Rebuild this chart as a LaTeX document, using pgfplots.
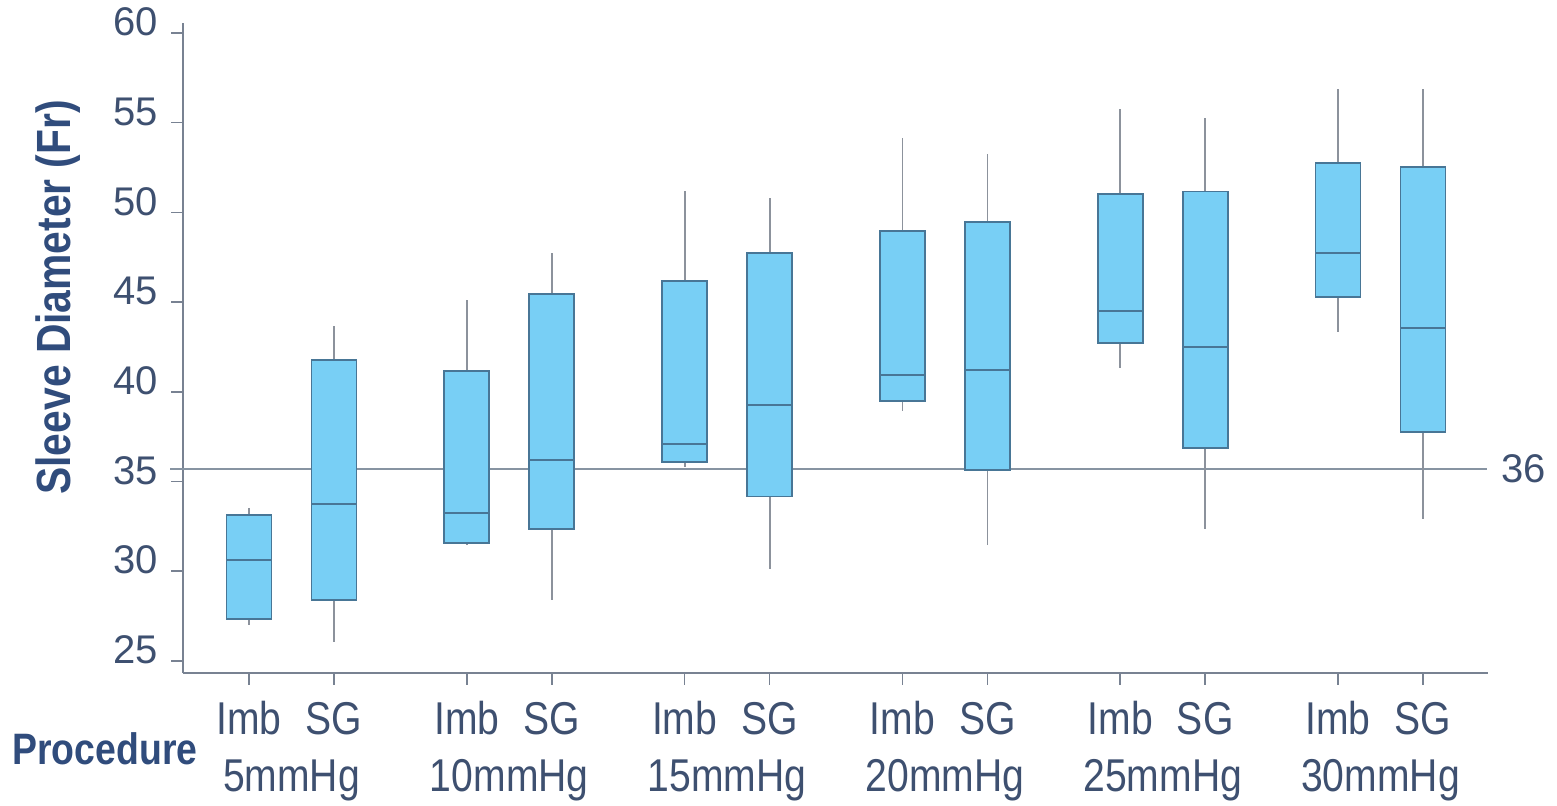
\documentclass[border=0pt]{standalone}
\usepackage{fontspec}
\setmainfont{Liberation Sans}
\newfontfamily\condfont[FakeStretch=0.85]{Liberation Sans}
\usepackage{pgfplots}
\pgfplotsset{compat=1.18}
\usepgfplotslibrary{statistics}
\definecolor{boxfill}{RGB}{120,207,245}
\definecolor{boxdraw}{RGB}{72,118,150}
\definecolor{whisk}{RGB}{140,146,156}
\definecolor{axisgray}{RGB}{120,130,146}
\definecolor{reflinec}{RGB}{135,148,162}
\definecolor{tickc}{RGB}{62,80,112}
\definecolor{labc}{RGB}{48,76,124}
\pgfplotsset{
  mybox/.style={draw=boxdraw, fill=boxfill, line width=0.9pt, mark=none, boxplot prepared={#1}},
}
\newcommand{\grp}[2]{\node[anchor=base, inner sep=0pt, font=\condfont\fontsize{23}{23}\selectfont, text=tickc] at ([yshift=-59.5pt]axis cs:#1,24.326) {#2};}
\begin{document}
\begin{tikzpicture}
\useasboundingbox (0,0) rectangle (778.5pt,403pt);
\begin{axis}[
  at={(91.5pt,66.5pt)}, anchor=south west,
  scale only axis, width=652.5pt, height=325pt,
  xmin=1.83, xmax=14.88, ymin=24.326, ymax=60.557,
  axis x line=bottom, axis y line=left,
  axis line style={draw=axisgray, line width=0.8pt, -},
  tick align=outside, major tick length=6pt,
  tick style={draw=axisgray, line width=0.8pt},
  ytick={25,30,...,60},
  xtick={2.49,3.34,4.668,5.518,6.846,7.696,9.024,9.874,11.202,12.052,13.38,14.23},
  xticklabels={Imb,SG,Imb,SG,Imb,SG,Imb,SG,Imb,SG,Imb,SG},
  /pgf/number format/assume math mode=true,
  yticklabel style={font=\fontsize{20}{20}\selectfont, text=tickc, anchor=east, xshift=-3pt, yshift=5.5pt},
  xticklabel style={font=\condfont\fontsize{23}{23}\selectfont, text=tickc, anchor=base, yshift=-25pt},
  clip=false,
  boxplot/draw direction=y,
  boxplot/box extend=0.45,
  boxplot/whisker extend=0,
  boxplot/every whisker/.style={draw=whisk, line width=0.9pt},
  boxplot/every median/.style={draw=boxdraw, line width=1pt},
]
\addplot[draw=reflinec, line width=1pt] coordinates {(1.70,35.70) (14.87,35.70)};
\addplot[mybox={draw position=2.49, lower whisker=27.0, lower quartile=27.34, median=30.61, upper quartile=33.12, upper whisker=33.53}] coordinates {};
\addplot[mybox={draw position=3.34, lower whisker=26.08, lower quartile=28.40, median=33.75, upper quartile=41.78, upper whisker=43.64}] coordinates {};
\addplot[mybox={draw position=4.668, lower whisker=31.45, lower quartile=31.59, median=33.26, upper quartile=41.18, upper whisker=45.12}] coordinates {};
\addplot[mybox={draw position=5.518, lower whisker=28.40, lower quartile=32.37, median=36.20, upper quartile=45.44, upper whisker=47.72}] coordinates {};
\addplot[mybox={draw position=6.846, lower whisker=35.83, lower quartile=36.07, median=37.08, upper quartile=46.18, upper whisker=51.19}] coordinates {};
\addplot[mybox={draw position=7.696, lower whisker=30.14, lower quartile=34.16, median=39.27, upper quartile=47.72, upper whisker=50.80}] coordinates {};
\addplot[mybox={draw position=9.024, lower whisker=38.93, lower quartile=39.49, median=40.94, upper quartile=48.96, upper whisker=54.15}] coordinates {};
\addplot[mybox={draw position=9.874, lower whisker=31.46, lower quartile=35.64, median=41.22, upper quartile=49.46, upper whisker=53.26}] coordinates {};
\addplot[mybox={draw position=11.202, lower whisker=41.33, lower quartile=42.72, median=44.50, upper quartile=51.03, upper whisker=55.76}] coordinates {};
\addplot[mybox={draw position=12.052, lower whisker=32.35, lower quartile=36.85, median=42.48, upper quartile=51.16, upper whisker=55.25}] coordinates {};
\addplot[mybox={draw position=13.38, lower whisker=43.35, lower quartile=45.30, median=47.76, upper quartile=52.77, upper whisker=56.86}] coordinates {};
\addplot[mybox={draw position=14.23, lower whisker=32.91, lower quartile=37.78, median=43.54, upper quartile=52.51, upper whisker=56.86}] coordinates {};
\node[anchor=west, inner sep=0pt, font=\fontsize{20}{20}\selectfont, text=tickc] at ([xshift=7pt]axis cs:14.87,35.70) {36};
\node[rotate=90, anchor=center, inner sep=0pt, font=\condfont\bfseries\fontsize{24}{24}\selectfont, text=labc] at ([xshift=-62.5pt]rel axis cs:0,0.578) {Sleeve Diameter (Fr)};
\node[anchor=base west, inner sep=0pt, font=\condfont\bfseries\fontsize{22}{22}\selectfont, text=labc] at ([xshift=-85.5pt,yshift=-46pt]rel axis cs:0,0) {Procedure};
\grp{2.915}{5mmHg}
\grp{5.093}{10mmHg}
\grp{7.271}{15mmHg}
\grp{9.449}{20mmHg}
\grp{11.627}{25mmHg}
\grp{13.805}{30mmHg}
\end{axis}
\end{tikzpicture}
\end{document}
